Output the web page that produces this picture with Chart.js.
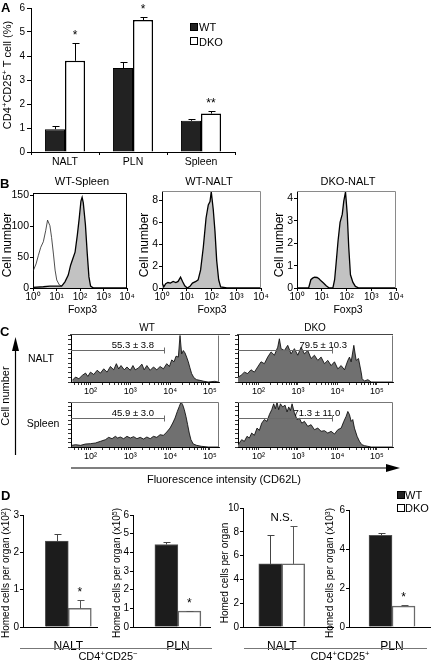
<!DOCTYPE html>
<html><head><meta charset="utf-8">
<script src="https://cdn.jsdelivr.net/npm/chart.js@4/dist/chart.umd.min.js"></script>
<style>
html,body{margin:0;padding:0;background:#fff;}
#fig{position:relative;width:431px;height:663px;overflow:hidden;background:#fff;font-family:"Liberation Sans",Arial,Helvetica,sans-serif;color:#000;}
#fig canvas{position:absolute;}
.t{position:absolute;white-space:nowrap;line-height:1;}
.t sup{font-size:0.7em;vertical-align:0.45em;line-height:0;}
svg{position:absolute;left:0;top:0;}
</style></head><body><div id="fig"></div>
<script>
// ---------- Panel A data ----------
const catsA = ['NALT', 'PLN', 'Spleen'];
const aWT = [0.95, 3.5, 1.3];
const aWTErr = [1.1, 3.77, 1.38];
const aDKO = [3.8, 5.5, 1.6];
const aDKOErr = [4.55, 5.63, 1.72];
const aSig = ['*', '*', '**'];
const aTicks = [0, 1, 2, 3, 4, 5, 6];

// ---------- Panel B data (x as log10 Foxp3 intensity, y = cell number) ----------
const bXTicks = [1, 10, 100, 1000, 10000];
const bXTickLabels = ['10⁰', '10¹', '10²', '10³', '10⁴'];
const bWTSpleenFoxLog = [0, 0.44, 0.72, 1.01, 1.22, 1.36, 1.50, 1.60, 1.69, 1.79, 1.89, 1.97, 2.04, 2.09, 2.14, 2.23, 2.31, 2.38, 2.45, 2.57, 4];
const bWTSpleenFoxN   = [1, 2, 3, 3, 3, 10, 21, 37, 47, 58, 87, 114, 141, 147, 138, 103, 55, 18, 3, 0, 0];
const bWTSpleenIsoLog = [0.01, 0.13, 0.23, 0.33, 0.44, 0.54, 0.62, 0.72, 0.79, 0.87, 0.94, 1.01, 1.12, 1.29, 1.72, 2.2];
const bWTSpleenIsoN   = [28, 39, 53, 66, 75, 93, 110, 101, 82, 55, 29, 13, 5, 2, 1, 0];
const bWTNaltLog = [0, 0.07, 0.15, 0.24, 0.34, 0.45, 0.56, 0.65, 0.75, 0.83, 0.92, 1.02, 1.13, 1.23, 1.37, 1.46, 1.56, 1.67, 1.78, 1.87, 1.94, 1.99, 2.07, 2.14, 2.21, 2.29, 2.37, 2.62, 4];
const bWTNaltN   = [0.5, 0.1, 0.4, 0.5, 0.45, 0.6, 0.5, 0.6, 1.0, 0.6, 0.2, 0, 0.15, 0.45, 0.6, 0.75, 1.65, 3.75, 6.4, 7.6, 7.9, 8.8, 7.2, 5.2, 2.5, 0.75, 0.1, 0, 0];
const bDKONaltLog = [0, 0.47, 0.56, 0.63, 0.71, 0.81, 0.89, 0.97, 1.07, 1.18, 1.29, 1.45, 1.52, 1.58, 1.66, 1.74, 1.83, 1.89, 1.96, 2.03, 2.09, 2.16, 2.26, 2.36, 2.5, 4];
const bDKONaltN   = [0, 0, 0.37, 0.44, 0.48, 0.47, 0.41, 0.32, 0.22, 0.1, 0.01, 0, 0.37, 1.1, 2.12, 2.93, 3.3, 3.88, 4.29, 3.3, 1.83, 0.59, 0.25, 0.07, 0, 0];
const bYTicks1 = [0, 50, 100, 150];
const bYTicks2 = [0, 2, 4, 6, 8];
const bYTicks3 = [0, 1, 2, 3, 4];

// ---------- Panel C data (x as log10 CD62L intensity, y = % of max count) ----------
const cXMajor = [100, 1000, 10000, 100000];
const cXMajorLabels = ['10²', '10³', '10⁴', '10⁵'];
const cWTNaltLog = [1.542,1.625,1.708,1.792,1.875,1.933,2.0,2.083,2.167,2.25,2.333,2.417,2.5,2.583,2.65,2.708,2.767,2.85,2.917,3.0,3.067,3.125,3.208,3.292,3.35,3.417,3.5,3.583,3.667,3.75,3.833,3.917,3.983,4.042,4.1,4.15,4.208,4.25,4.292,4.333,4.375,4.417,4.458,4.5,4.542,4.6,4.667,4.75,4.85,4.958,5.125,5.208];
const cWTNaltN   = [3.5,10.6,7,14,19,12,21,16,25,19,28,21,33,26,39,28,35,26,32,25,35,26,30,38,26,35,25,32,26,33,28,39,33,47,43,55,53,99,60,67,62,53,43,30,18,9,5,3.5,1.5,0,1.5,0];
const cDKONaltLog = [1.472,1.556,1.641,1.725,1.81,1.895,1.979,2.064,2.148,2.233,2.318,2.402,2.487,2.529,2.572,2.656,2.741,2.825,2.91,2.995,3.079,3.164,3.249,3.333,3.418,3.503,3.587,3.672,3.757,3.841,3.926,4.011,4.095,4.18,4.265,4.307,4.349,4.417,4.476,4.535,4.603,4.628,4.687,4.772,4.857,5.424];
const cDKONaltN   = [10,14,21,18,26,21,32,43,39,53,64,57,74,92,71,67,78,60,71,57,74,60,67,50,57,46,53,39,46,35,43,28,35,26,46,53,43,78,46,50,21,7,2,5,0,0];
const cWTSpleenLog = [1.525,1.625,1.75,1.875,2.0,2.125,2.25,2.375,2.458,2.542,2.625,2.683,2.75,2.833,2.917,3.0,3.083,3.167,3.25,3.333,3.417,3.5,3.583,3.667,3.75,3.833,3.917,4.0,4.067,4.125,4.183,4.233,4.275,4.317,4.358,4.4,4.442,4.483,4.525,4.583,4.667,4.792,4.958,5.22];
const cWTSpleenN   = [3.7,5.2,3.7,6.7,7.4,8.9,12.6,16.3,21.5,18.5,23.7,20,22.2,18.5,23.7,20,23,18.5,21.5,17.8,22.2,18.5,23.7,21.5,27.4,25.9,33.3,42.2,53.3,64.4,79.3,90.4,100,94,83,68,49.6,31,16.3,6.7,3.7,1.5,0,0];
const cDKOSpleenLog = [1.48,1.514,1.573,1.641,1.708,1.768,1.827,1.895,1.962,2.021,2.081,2.148,2.216,2.275,2.335,2.385,2.427,2.47,2.512,2.555,2.614,2.673,2.724,2.766,2.808,2.851,2.91,2.978,3.037,3.096,3.164,3.249,3.333,3.418,3.503,3.587,3.672,3.757,3.841,3.926,4.011,4.095,4.163,4.221,4.265,4.307,4.349,4.39,4.433,4.5,4.56,4.619,4.687,4.772,4.857,5.424];
const cDKOSpleenN   = [5,8.9,16.3,12.6,23.7,20,31,26,42,37,53,61,57,72,83,96,85,100,83,96,89,93,78,89,81,96,76,61,64,53,57,46,49.6,38.5,42,35,36.3,31,34.8,28.9,38.5,42,57,68,79,72,57,61,42,23.7,12.6,5.2,3,1.5,0,0];
const cGateLabels = ['55.3 ± 3.8', '79.5 ± 10.3', '45.9 ± 3.0', '71.3 ± 11.0'];
const cGateEndLog = [3.843, 3.87, 3.843, 3.87];
const cGateLevel = [68, 68, 65, 65];
const cGateLabelLog = [3.065, 3.64, 3.065, 3.48];

// ---------- Panel D data ----------
const dNegNaltCats = ['NALT'], dNegNaltWT = [2.3], dNegNaltWTErr = [2.5], dNegNaltDKO = [0.5], dNegNaltDKOErr = [0.72], dNegNaltSig = ['*'];
const dNegPlnCats = ['PLN'], dNegPlnWT = [4.42], dNegPlnWTErr = [4.55], dNegPlnDKO = [0.85], dNegPlnDKOErr = [0.88], dNegPlnSig = ['*'];
const dPosNaltCats = ['NALT'], dPosNaltWT = [5.3], dPosNaltWTErr = [7.74], dPosNaltDKO = [5.3], dPosNaltDKOErr = [8.46], dPosNaltGroupSig = ['N.S.'];
const dPosPlnCats = ['PLN'], dPosPlnWT = [4.7], dPosPlnWTErr = [4.8], dPosPlnDKO = [1.07], dPosPlnDKOErr = [1.12], dPosPlnSig = ['*'];
const dTicks1 = [0, 1, 2, 3], dTicks2 = [0, 1, 2, 3, 4, 5, 6], dTicks3 = [0, 2, 4, 6, 8, 10], dTicks4 = [0, 2, 4, 6];

// ================= drawing =================
const FONT = '"Liberation Sans", Arial, Helvetica, sans-serif';
Chart.defaults.font.family = FONT;
Chart.defaults.color = '#000';

const errPlugin = {
  id: 'err',
  afterDatasetsDraw(chart, args, o) {
    const ctx = chart.ctx, ys = chart.scales.y;
    const cap = o.cap || 3;
    ctx.save();
    const tops = [];
    chart.data.datasets.forEach((ds, di) => {
      if (!ds.errTop) return;
      chart.getDatasetMeta(di).data.forEach((bar, i) => {
        const top = ys.getPixelForValue(ds.errTop[i]);
        tops[i] = Math.min(tops[i] === undefined ? Infinity : tops[i], top);
        const x = Math.round(bar.x) + 0.5, ty = Math.round(top) + 0.5;
        ctx.strokeStyle = ds.errColor || '#000';
        ctx.lineWidth = 1;
        ctx.beginPath();
        ctx.moveTo(x, bar.y); ctx.lineTo(x, ty);
        ctx.moveTo(x - cap, ty); ctx.lineTo(x + cap + 1, ty);
        ctx.stroke();
        if (ds.sig && ds.sig[i]) {
          ctx.fillStyle = '#000';
          ctx.font = '12px ' + FONT;
          ctx.textAlign = 'center'; ctx.textBaseline = 'alphabetic';
          ctx.fillText(ds.sig[i], bar.x, top - 4);
        }
      });
    });
    if (o.groupSig) {
      o.groupSig.forEach((s, i) => {
        const x = chart.scales.x.getPixelForValue(i);
        ctx.fillStyle = '#000';
        ctx.font = '11.5px ' + FONT;
        ctx.textAlign = 'center'; ctx.textBaseline = 'alphabetic';
        ctx.fillText(s, x, tops[i] - 5);
      });
    }
    ctx.restore();
  }
};
const framePlugin = {
  id: 'frame',
  afterDraw(chart, args, o) {
    if (!o.color) return;
    const a = chart.chartArea, ctx = chart.ctx;
    const t = Math.round(a.top) + 0.5, r = Math.round(a.right) - 0.5;
    ctx.save(); ctx.strokeStyle = o.color; ctx.lineWidth = 1; ctx.beginPath();
    if (o.top !== false) { ctx.moveTo(a.left, t); ctx.lineTo(r, t); } else { ctx.moveTo(r, t); }
    ctx.lineTo(r, a.bottom); ctx.stroke(); ctx.restore();
  }
};
const gatePlugin = {
  id: 'gate',
  afterDatasetsDraw(chart, args, o) {
    if (o.end === undefined) return;
    const ctx = chart.ctx, xs = chart.scales.x, ys = chart.scales.y, a = chart.chartArea;
    const y = Math.round(ys.getPixelForValue(o.level)) + 0.5;
    const x2 = Math.round(xs.getPixelForValue(Math.pow(10, o.end))) + 0.5;
    ctx.save(); ctx.strokeStyle = '#6a6a6a'; ctx.lineWidth = 1; ctx.beginPath();
    ctx.moveTo(a.left, y); ctx.lineTo(x2, y); ctx.moveTo(x2, y - 3); ctx.lineTo(x2, y + 3); ctx.stroke();
    ctx.fillStyle = '#000'; ctx.font = '9.5px ' + FONT; ctx.textAlign = 'center'; ctx.textBaseline = 'alphabetic';
    ctx.fillText(o.label, xs.getPixelForValue(Math.pow(10, o.at)), y - 3);
    ctx.restore();
  }
};
Chart.register(errPlugin, framePlugin, gatePlugin);

const fig = document.getElementById('fig');
function mkCanvas(p, m) {
  const c = document.createElement('canvas');
  const w = p.r - p.l + m.l + m.r, h = p.b - p.t + m.t + m.b;
  c.width = w; c.height = h;
  Object.assign(c.style, { left: (p.l - m.l) + 'px', top: (p.t - m.t) + 'px', width: w + 'px', height: h + 'px' });
  fig.appendChild(c);
  return c;
}
function baseOpts(m) {
  return {
    responsive: false, animation: false, devicePixelRatio: 1, events: [],
    layout: { padding: { left: 0, top: m.t, right: m.r, bottom: 0 } },
  };
}
const noLegend = { legend: { display: false }, tooltip: { enabled: false } };
const xy = (lg, n) => lg.map((e, i) => ({ x: Math.pow(10, e), y: n[i] }));
const fixedTicks = arr => (s => { s.ticks = arr.map(v => ({ value: v })); });

// ---------- Panel A ----------
(function () {
  const p = { l: 31, t: 6, r: 235, b: 152 }, m = { l: 21, t: 6, r: 10, b: 16 };
  new Chart(mkCanvas(p, m), {
    type: 'bar',
    data: {
      labels: catsA,
      datasets: [
        { label: 'WT', data: aWT, errTop: aWTErr, backgroundColor: '#222', borderColor: '#000', borderWidth: 1, categoryPercentage: 0.59, barPercentage: 1 },
        { label: 'DKO', data: aDKO, errTop: aDKOErr, sig: aSig, backgroundColor: '#fff', borderColor: '#000', borderWidth: 1.5, categoryPercentage: 0.59, barPercentage: 1 }
      ]
    },
    options: Object.assign(baseOpts(m), {
      plugins: Object.assign({ err: { cap: 3 } }, noLegend),
      scales: {
        x: { grid: { drawOnChartArea: false, tickLength: 3, color: '#000', offset: true }, border: { color: '#000' },
             ticks: { padding: 1, font: { size: 10.5 }, autoSkip: false, maxRotation: 0 }, afterFit: s => { s.height = m.b; } },
        y: { min: 0, max: 6, bounds: 'data', afterBuildTicks: fixedTicks(aTicks), grid: { drawOnChartArea: false, tickLength: 4, color: '#000' },
             border: { color: '#000' }, ticks: { padding: 2, font: { size: 10 } }, afterFit: s => { s.width = m.l; } }
      }
    })
  });
})();

// ---------- Panel B ----------
function histB(p, yMax, yTicks, sets, frameColor) {
  const m = { l: 21, t: 6, r: 10, b: 14 };
  new Chart(mkCanvas(p, m), {
    type: 'scatter',
    data: { datasets: sets },
    options: Object.assign(baseOpts(m), {
      plugins: Object.assign({ frame: { color: frameColor } }, noLegend),
      scales: {
        x: { type: 'logarithmic', min: 1, max: 10000, bounds: 'data', afterBuildTicks: fixedTicks(bXTicks),
             grid: { drawOnChartArea: false, tickLength: 3, color: '#000' }, border: { color: '#000' },
             ticks: { padding: 0, font: { size: 10 }, autoSkip: false, maxRotation: 0,
                      callback: v => { const j = bXTicks.indexOf(v); return j >= 0 ? bXTickLabels[j] : ''; } },
             afterFit: s => { s.height = m.b; } },
        y: { min: 0, max: yMax, bounds: 'data', afterBuildTicks: fixedTicks(yTicks),
             grid: { drawOnChartArea: false, tickLength: 3, color: '#000' }, border: { color: '#000' },
             ticks: { padding: 1, font: { size: 10.5 } }, afterFit: s => { s.width = m.l; } }
      }
    })
  });
}
const filled = (d) => ({ data: d, showLine: true, fill: 'origin', backgroundColor: '#c2c2c2', borderColor: '#000', borderWidth: 1.3, pointRadius: 0, tension: 0 });
histB({ l: 33, t: 192, r: 127, b: 288 }, 153.5, bYTicks1, [
  filled(xy(bWTSpleenFoxLog, bWTSpleenFoxN)),
  { data: xy(bWTSpleenIsoLog, bWTSpleenIsoN), showLine: true, fill: false, borderColor: '#222', borderWidth: 0.8, pointRadius: 0, tension: 0 }
], '#000');
histB({ l: 162, t: 190, r: 261, b: 288 }, 8.84, bYTicks2, [filled(xy(bWTNaltLog, bWTNaltN))], '#8a8a8a');
histB({ l: 297, t: 190, r: 396, b: 288 }, 4.32, bYTicks3, [filled(xy(bDKONaltLog, bDKONaltN))], '#8a8a8a');

// ---------- Panel C ----------
function logMinorTicks(minE, maxE) {
  const t = [];
  for (let n = 1; n <= 5; n++) for (let k = 1; k <= 9; k++) {
    const v = k * Math.pow(10, n), e = Math.log10(v);
    if (e >= minE && e <= maxE) t.push({ value: v });
  }
  return t;
}
function histC(p, minE, maxE, lg, n, gi, frameTop) {
  const m = { l: 6, t: 4, r: 10, b: 14 };
  new Chart(mkCanvas(p, m), {
    type: 'scatter',
    data: { datasets: [{ data: xy(lg, n), showLine: true, fill: 'origin', backgroundColor: '#707070', borderColor: '#000', borderWidth: 0.8, pointRadius: 0, tension: 0 }] },
    options: Object.assign(baseOpts(m), {
      plugins: Object.assign({
        frame: { color: '#777', top: frameTop },
        gate: { end: cGateEndLog[gi], level: cGateLevel[gi], label: cGateLabels[gi], at: cGateLabelLog[gi] }
      }, noLegend),
      scales: {
        x: { type: 'logarithmic', min: Math.pow(10, minE), max: Math.pow(10, maxE), bounds: 'data',
             afterBuildTicks: s => { s.ticks = logMinorTicks(minE, maxE); },
             grid: { drawOnChartArea: false, tickLength: 3, color: '#000', lineWidth: 0.8 }, border: { color: '#000' },
             ticks: { padding: 1, font: { size: 9 }, autoSkip: false, maxRotation: 0,
                      callback: v => { const j = cXMajor.indexOf(v); return j >= 0 ? cXMajorLabels[j] : ''; } },
             afterFit: s => { s.height = m.b; } },
        y: { min: 0, max: 100, bounds: 'data', afterBuildTicks: s => { s.ticks = [0,10,20,30,40,50,60,70,80,90,100].map(v => ({ value: v })); },
             grid: { drawOnChartArea: false, tickLength: 3, color: '#000', lineWidth: 0.8 }, border: { color: '#000' },
             ticks: { display: false }, afterFit: s => { s.width = m.l; } }
      }
    })
  });
}
histC({ l: 71, t: 335, r: 219, b: 382 }, 1.51, 5.23, cWTNaltLog, cWTNaltN, 0, false);
histC({ l: 238, t: 335, r: 393, b: 382 }, 1.48, 5.41, cDKONaltLog, cDKONaltN, 1, false);
histC({ l: 71, t: 402, r: 219, b: 447 }, 1.51, 5.23, cWTSpleenLog, cWTSpleenN, 2, true);
histC({ l: 238, t: 402, r: 393, b: 447 }, 1.48, 5.41, cDKOSpleenLog, cDKOSpleenN, 3, true);

// ---------- Panel D ----------
function barD(p, xMin, cats, wt, wtErr, dko, dkoErr, sig, groupSig, yMax, yTicks) {
  const m = { l: 14, t: 6, r: 4, b: 26 };
  const pts = arr => arr.map((v, i) => ({ x: i, y: v }));
  new Chart(mkCanvas(p, m), {
    type: 'bar',
    data: {
      datasets: [
        { label: 'WT', data: pts(wt), errTop: wtErr, errColor: '#444', backgroundColor: '#1c1c1c', borderColor: '#555', borderWidth: 1, barThickness: 23 },
        { label: 'DKO', data: pts(dko), errTop: dkoErr, errColor: '#555', sig: sig, backgroundColor: '#fff', borderColor: '#6a6a6a', borderWidth: 1.5, barThickness: 23 }
      ]
    },
    options: Object.assign(baseOpts(m), {
      plugins: Object.assign({ err: { cap: 3, groupSig: groupSig } }, noLegend),
      scales: {
        x: { type: 'linear', offset: false, min: xMin, max: xMin + 1, bounds: 'data',
             afterBuildTicks: s => { s.ticks = cats.map((c, i) => ({ value: i })); },
             grid: { display: false, offset: false }, border: { color: '#000' },
             ticks: { padding: 4, font: { size: 12 }, autoSkip: false, maxRotation: 0, callback: (v) => cats[v] },
             afterFit: s => { s.height = m.b; } },
        y: { min: 0, max: yMax, bounds: 'data', afterBuildTicks: fixedTicks(yTicks),
             grid: { drawOnChartArea: false, tickLength: 3, color: '#000' }, border: { color: '#000' },
             ticks: { padding: 1, font: { size: 10 } }, afterFit: s => { s.width = m.l; } }
      }
    })
  });
}
barD({ l: 23, t: 514, r: 97, b: 627 }, -0.612, dNegNaltCats, dNegNaltWT, dNegNaltWTErr, dNegNaltDKO, dNegNaltDKOErr, dNegNaltSig, null, 3, dTicks1);
barD({ l: 133, t: 514, r: 210, b: 627 }, -0.583, dNegPlnCats, dNegPlnWT, dNegPlnWTErr, dNegPlnDKO, dNegPlnDKOErr, dNegPlnSig, null, 6, dTicks2);
barD({ l: 243, t: 507, r: 333, b: 627 }, -0.431, dPosNaltCats, dPosNaltWT, dPosNaltWTErr, dPosNaltDKO, dPosNaltDKOErr, null, dPosNaltGroupSig, 10, dTicks3);
barD({ l: 349, t: 509, r: 430, b: 627 }, -0.531, dPosPlnCats, dPosPlnWT, dPosPlnWTErr, dPosPlnDKO, dPosPlnDKOErr, dPosPlnSig, null, 6, dTicks4);

// ---------- lines, arrows, legend boxes ----------
const svgNS = 'http://www.w3.org/2000/svg';
const svg = document.createElementNS(svgNS, 'svg');
svg.setAttribute('width', 431); svg.setAttribute('height', 663);
svg.innerHTML = `
<line x1="70" y1="334.5" x2="230" y2="334.5" stroke="#444" stroke-width="1"/>
<line x1="237" y1="334.5" x2="393" y2="334.5" stroke="#444" stroke-width="1"/>
<line x1="15.5" y1="455" x2="15.5" y2="348" stroke="#000" stroke-width="1.2"/>
<polygon points="15.5,337 12,351 19,351" fill="#000"/>
<line x1="71" y1="468" x2="390" y2="468" stroke="#000" stroke-width="1.2"/>
<polygon points="400,468 386,464 386,472" fill="#000"/>
<line x1="20" y1="648.5" x2="212" y2="648.5" stroke="#777" stroke-width="1"/>
<line x1="244" y1="648.5" x2="427" y2="648.5" stroke="#777" stroke-width="1"/>
<rect x="190.5" y="23.5" width="7" height="7" fill="#222" stroke="#000"/>
<rect x="190.5" y="37.5" width="7" height="7" fill="#fff" stroke="#000"/>
<rect x="397.5" y="491.5" width="7" height="7" fill="#222" stroke="#000"/>
<rect x="397.5" y="504.5" width="7" height="7" fill="#fff" stroke="#000"/>`;
fig.appendChild(svg);

// ---------- text ----------
function txt(s, x, y, size, o = {}) {
  const d = document.createElement('div');
  d.className = 't'; d.innerHTML = s;
  d.style.left = x + 'px'; d.style.top = y + 'px'; d.style.fontSize = size + 'px';
  let tr = o.left ? 'translate(0,-50%)' : 'translate(-50%,-50%)';
  if (o.rot) tr += ' rotate(-90deg)';
  d.style.transform = tr;
  if (o.bold) d.style.fontWeight = 'bold';
  fig.appendChild(d);
}
// panel letters
txt('A', 1, 7, 13, { left: 1, bold: 1 });
txt('B', 0, 183, 13, { left: 1, bold: 1 });
txt('C', 0, 331, 13, { left: 1, bold: 1 });
txt('D', 1, 495, 13, { left: 1, bold: 1 });
// A
txt('CD4<sup>+</sup>CD25<sup>+</sup> T cell (%)', 7, 75, 11, { rot: 1 });
txt('WT', 199, 26.5, 11, { left: 1 });
txt('DKO', 199, 41.5, 11, { left: 1 });
// B
txt('WT-Spleen', 82, 181, 11);
txt('WT-NALT', 209, 181, 11);
txt('DKO-NALT', 348, 181, 11);
txt('Cell number', 7, 245, 12, { rot: 1 });
txt('Cell number', 144, 245, 12, { rot: 1 });
txt('Cell number', 279, 245, 12, { rot: 1 });
txt('Foxp3', 82.5, 309, 10.5);
txt('Foxp3', 212, 309, 10.5);
txt('Foxp3', 348, 309, 10.5);
// C
txt('WT', 147, 328, 10);
txt('DKO', 315, 328, 10);
txt('Cell number', 5, 396, 11, { rot: 1 });
txt('NALT', 41, 358, 10.5);
txt('Spleen', 43, 423, 10.5);
txt('Fluorescence intensity (CD62L)', 224, 478.5, 11);
// D
txt('WT', 405, 495, 11, { left: 1 });
txt('DKO', 405, 508, 11, { left: 1 });
txt('Homed cells per organ (x10<sup>2</sup>)', 6, 572.5, 10, { rot: 1 });
txt('Homed cells per organ (x10<sup>5</sup>)', 116.5, 572.5, 10, { rot: 1 });
txt('Homed cells per organ', 225, 572.5, 10, { rot: 1 });
txt('Homed cells per organ (x10<sup>3</sup>)', 330, 572.5, 10, { rot: 1 });
txt('CD4<sup>+</sup>CD25<sup>−</sup>', 108, 656, 11);
txt('CD4<sup>+</sup>CD25<sup>+</sup>', 340, 656, 11);
</script></body></html>
